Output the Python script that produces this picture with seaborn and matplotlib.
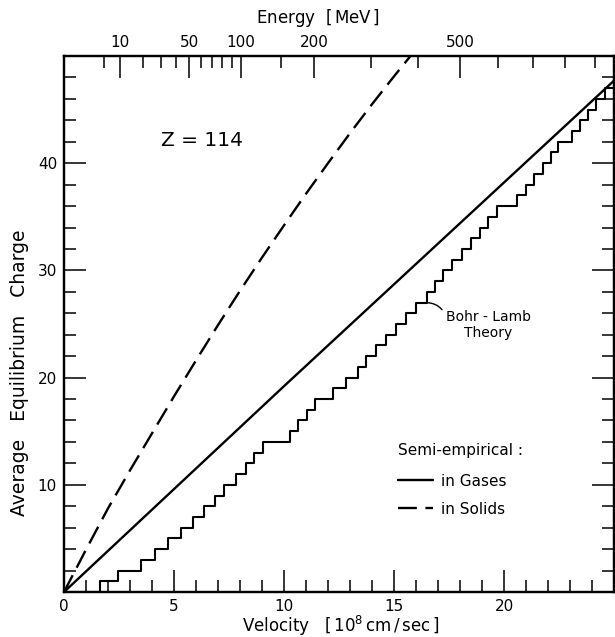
import numpy as np
import pandas as pd
import matplotlib
matplotlib.use("Agg")
import matplotlib.pyplot as plt
import seaborn as sns

# ---------------- data ----------------
velocity_ticks = [0, 5, 10, 15, 20]
charge_ticks = [10, 20, 30, 40]
energy_labels = [10, 50, 100, 200, 500]
energy_minor = [5, 20, 30, 40, 60, 70, 80, 90, 150, 300, 400, 600, 700, 800, 900]
energy_per_v2 = 1.543  # MeV per (10^8 cm/s)^2 for Z = 114

# semi-empirical, in gases (solid line)
gas_v = [0, 5, 10, 15, 20, 25]
gas_q = [0, 9.6, 19.2, 28.7, 38.2, 47.7]

# semi-empirical, in solids (dashed line)
solid_v = [0, 1, 2, 3, 4, 5, 6, 7, 8, 9, 10, 11, 12, 13, 14, 15, 15.75]
solid_q = [0, 3.95, 7.8, 11.35, 14.8, 18.25, 21.6, 24.9, 28.1, 31.2, 34.2,
           37.15, 40.0, 42.8, 45.5, 48.1, 50.0]

# Bohr-Lamb theory: velocity at which the charge steps up to 1, 2, 3, ...
bl_step_v = [1.63, 2.45, 3.52, 4.15, 4.73, 5.30, 5.85, 6.38, 6.85, 7.28,
             7.84, 8.25, 8.64, 9.03, 10.27, 10.65, 11.05, 11.43, 12.21, 12.84,
             13.36, 13.74, 14.16, 14.63, 15.09, 15.54, 16.02, 16.50, 16.85, 17.21,
             17.64, 18.07, 18.48, 18.89, 19.26, 19.69, 20.60, 21.00, 21.35, 21.78,
             22.15, 22.46, 23.07, 23.45, 23.80, 24.16, 24.60, 25.00]
bl_step_q = list(range(1, len(bl_step_v) + 1))

# ---------------- style ----------------
sns.set_style("ticks")
plt.rcParams['font.family'] = ['DejaVu Sans']
plt.rcParams['mathtext.fontset'] = 'dejavusans'
for k in ["text.color", "axes.labelcolor", "xtick.color", "ytick.color", "axes.edgecolor"]:
    plt.rcParams[k] = "black"

fig = plt.figure(figsize=(6.15, 6.37), dpi=100)
ax = fig.add_axes([64 / 615, 1 - 592 / 637, 550 / 615, 536 / 637])

gas_df = pd.DataFrame({"v": gas_v, "q": gas_q})
solid_df = pd.DataFrame({"v": solid_v, "q": solid_q})
bl_df = pd.DataFrame({"v": [0] + bl_step_v, "q": [0] + bl_step_q})

sns.lineplot(data=gas_df, x="v", y="q", ax=ax, color="black", lw=1.7,
             estimator=None, sort=False, label="in Gases")
sns.lineplot(data=solid_df, x="v", y="q", ax=ax, color="black", lw=1.7,
             estimator=None, sort=False, label="in Solids")
ax.lines[-1].set_dashes([8, 3.6])
sns.lineplot(data=bl_df, x="v", y="q", ax=ax, color="black", lw=1.5,
             estimator=None, sort=False, drawstyle="steps-post", legend=False)

ax.set_xlim(0, 25)
ax.set_ylim(0, 50)

# ticks
ax.set_xticks(velocity_ticks)
ax.set_xticks(np.arange(0, 26, 1), minor=True)
ax.set_yticks(charge_ticks)
ax.set_yticks(np.arange(0, 51, 2), minor=True)
ax.tick_params(which="both", direction="in", right=True, top=False, width=1.1,
               labelsize=11, pad=5, color="black")
ax.tick_params(which="major", length=16)
ax.tick_params(which="minor", length=8.5)
for s in ax.spines.values():
    s.set_linewidth(1.6)
    s.set_color("black")

ax.set_xlabel("")
ax.set_ylabel("")

# top energy axis
ax2 = ax.twiny()
ax2.set_xlim(ax.get_xlim())
ax2.set_xticks([np.sqrt(e / energy_per_v2) for e in energy_labels])
ax2.set_xticklabels([str(e) for e in energy_labels])
ax2.set_xticks([np.sqrt(e / energy_per_v2) for e in energy_minor], minor=True)
ax2.tick_params(which="both", direction="in", width=1.1, labelsize=11, pad=4)
ax2.tick_params(which="major", length=16)
ax2.tick_params(which="minor", length=8.5)
for s in ax2.spines.values():
    s.set_linewidth(1.6)

# axis titles
fig.text(341 / 615, 1 - 626 / 637, r"Velocity   $\left[\,10^8\,\mathrm{cm\,/\,sec}\,\right]$",
         fontsize=12, ha="center", va="center")
fig.text(318 / 615, 1 - 18 / 637, r"Energy  $\left[\,\mathrm{MeV}\,\right]$",
         fontsize=12, ha="center", va="center")
fig.text(20 / 615, 1 - 373 / 637, "Average   Equilibrium   Charge",
         fontsize=13.5, ha="center", va="center", rotation=90)

# annotations
ax.text(4.4, 42.1, "Z = 114", fontsize=14.5, ha="left", va="center")
ax.annotate("Bohr - Lamb\nTheory", xy=(16.45, 27.0), xytext=(19.3, 24.9),
            ha="center", va="center", fontsize=10, linespacing=1.25,
            arrowprops=dict(arrowstyle="-", color="black", lw=1.0,
                            connectionstyle="arc3,rad=0.35",
                            relpos=(0.0, 0.75), shrinkA=1, shrinkB=0))

leg = ax.legend(title="Semi-empirical :", loc="upper left",
                bbox_to_anchor=(0.593, 0.293), frameon=False, fontsize=11,
                title_fontsize=11, handlelength=2.3, handletextpad=0.55,
                labelspacing=0.85, borderpad=0, alignment="left")
leg._legend_box.sep = 11.5

fig.savefig("out.png", dpi=100)
